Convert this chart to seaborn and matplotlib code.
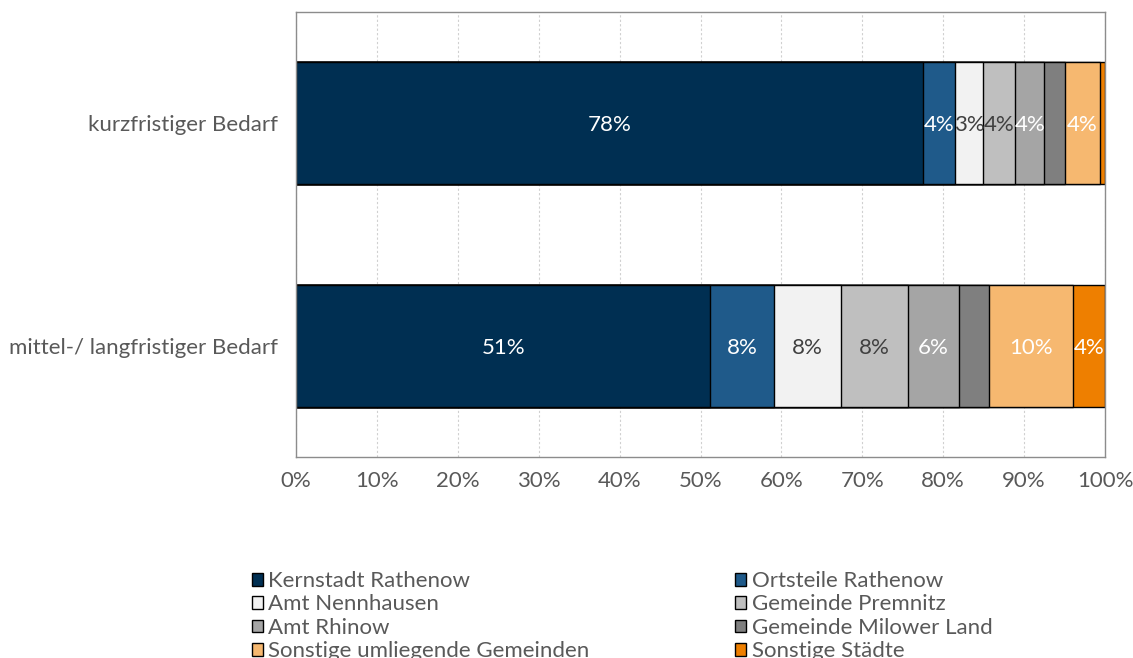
import matplotlib
matplotlib.use("Agg")
import matplotlib.pyplot as plt
from matplotlib.patches import Patch
import seaborn as sns
import pandas as pd
import numpy as np

categories = ["kurzfristiger Bedarf", "mittel-/ langfristiger Bedarf"]
series = ["Kernstadt Rathenow", "Ortsteile Rathenow", "Amt Nennhausen", "Gemeinde Premnitz",
          "Amt Rhinow", "Gemeinde Milower Land", "Sonstige umliegende Gemeinden", "Sonstige Städte"]
kurz = [77.5, 4.0, 3.4, 4.0, 3.6, 2.5, 4.4, 0.6]
mittel = [51.2, 7.9, 8.3, 8.2, 6.3, 3.7, 10.4, 4.0]
labels_kurz = ["78%", "4%", "3%", "4%", "4%", "", "4%", ""]
labels_mittel = ["51%", "8%", "8%", "8%", "6%", "", "10%", "4%"]
colors = ["#002F52", "#1F5A8A", "#F2F2F2", "#BFBFBF", "#A5A5A5", "#7F7F7F", "#F6B870", "#EE7F00"]
label_colors = ["white", "white", "#404040", "#404040", "white", "white", "white", "white"]
xticks = [0, 10, 20, 30, 40, 50, 60, 70, 80, 90, 100]

sns.set_theme(style="white")
plt.rcParams["font.family"] = ["Lato", "DejaVu Sans"]
text_color = "#595959"
FS = 16

fig = plt.figure(figsize=(11.33, 6.58), dpi=100)
ax = fig.add_axes([0.2613, 0.3055, 0.9753 - 0.2613, 0.9818 - 0.3055])

vals = np.array([kurz, mittel])  # shape (2, 8)
cum = np.cumsum(vals, axis=1)

# draw cumulative bars from largest to smallest so they stack visually
for i in range(len(series) - 1, -1, -1):
    df = pd.DataFrame({"cat": categories, "val": cum[:, i]})
    sns.barplot(data=df, y="cat", x="val", orient="h", color=colors[i],
                width=0.55, edgecolor="black", linewidth=1.0, ax=ax, saturation=1)

all_labels = [labels_kurz, labels_mittel]
for r in range(len(categories)):
    for i in range(len(series)):
        lab = all_labels[r][i]
        if lab:
            xc = cum[r, i] - vals[r, i] / 2
            ax.text(xc, r + 0.01, lab, ha="center", va="center", fontsize=FS,
                    color=label_colors[i])

ax.set_xlim(0, 100)
ax.set_ylim(1.5, -0.5)
ax.set_xticks(xticks)
ax.set_xticklabels([f"{t}%" for t in xticks])
ax.set_xlabel("")
ax.set_ylabel("")
ax.grid(axis="x", color="#D0D0D0", linestyle=(0, (2, 2)), linewidth=0.8)
ax.grid(axis="y", visible=False)
ax.set_axisbelow(True)
for s in ax.spines.values():
    s.set_color("#8C8C8C")
    s.set_linewidth(1.0)
ax.tick_params(axis="x", labelsize=FS, colors=text_color, pad=10, length=0)
ax.tick_params(axis="y", labelsize=FS, colors=text_color, pad=13, length=0)

handles = [Patch(facecolor=c, edgecolor="black", linewidth=1.0) for c in colors]
# reorder for row-wise filling in a 2-column legend
order = [0, 2, 4, 6, 1, 3, 5, 7]
leg = fig.legend([handles[k] for k in order], [series[k] for k in order],
                 ncol=2, loc="upper left", bbox_to_anchor=(0.222, 0.132),
                 frameon=False, fontsize=FS, handlelength=0.5, handleheight=0.5,
                 handletextpad=0.25, columnspacing=6.55, labelspacing=0.15,
                 borderpad=0, borderaxespad=0)
for t in leg.get_texts():
    t.set_color(text_color)

fig.savefig("out.png", dpi=100)
